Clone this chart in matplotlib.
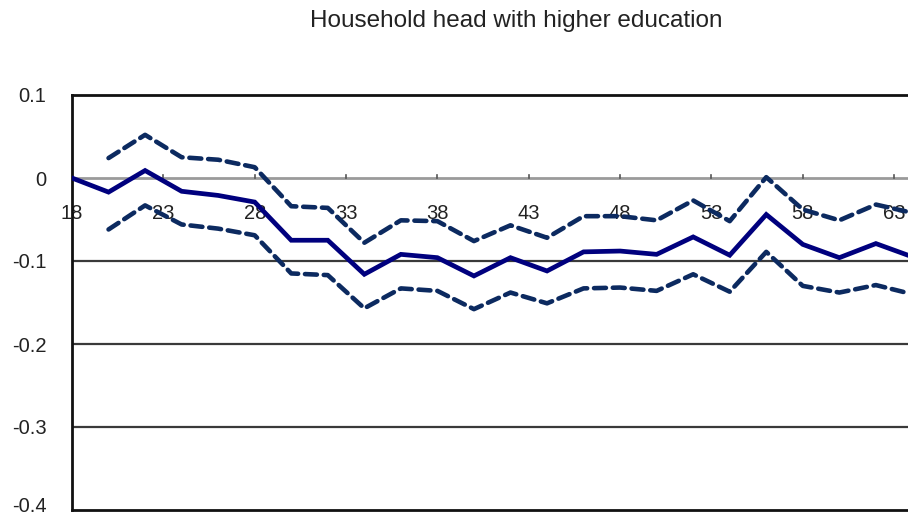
import matplotlib
matplotlib.use("Agg")
import matplotlib.pyplot as plt
from matplotlib.transforms import ScaledTranslation

plt.rcParams['font.family'] = ['Liberation Sans', 'DejaVu Sans']

ages = [18, 20, 22, 24, 26, 28, 30, 32, 34, 36, 38, 40, 42, 44, 46, 48, 50,
        52, 54, 56, 58, 60, 62, 64]
estimate = [0.000, -0.017, 0.009, -0.016, -0.021, -0.029, -0.075, -0.075,
            -0.116, -0.092, -0.096, -0.118, -0.096, -0.112, -0.089, -0.088,
            -0.092, -0.071, -0.093, -0.044, -0.080, -0.096, -0.079, -0.095]
band_ages = ages[1:]
upper = [0.024, 0.052, 0.025, 0.022, 0.013, -0.034, -0.036, -0.078, -0.051,
         -0.052, -0.076, -0.057, -0.072, -0.046, -0.046, -0.051, -0.027,
         -0.052, 0.001, -0.038, -0.051, -0.032, -0.042]
lower = [-0.062, -0.033, -0.056, -0.061, -0.069, -0.115, -0.117, -0.157,
         -0.133, -0.136, -0.158, -0.138, -0.151, -0.133, -0.132, -0.136,
         -0.116, -0.137, -0.089, -0.130, -0.138, -0.129, -0.140]
x_ticks = [18, 23, 28, 33, 38, 43, 48, 53, 58, 63]
y_ticks = [0.1, 0, -0.1, -0.2, -0.3, -0.4]
y_labels = ["0.1", "0", "-0.1", "-0.2", "-0.3", "-0.4"]
title = "Household head with higher education"

W, H = 908, 519
fig = plt.figure(figsize=(W / 100, H / 100), dpi=100)
left_px, top_px, bottom_px = 72, 95, 510
ax = fig.add_axes([left_px / W, 1 - bottom_px / H, 1 - left_px / W,
                   (bottom_px - top_px) / H])

px_per_year = 18.27
ax.set_xlim(18, 18 + (W - left_px) / px_per_year)
ax.set_ylim(-0.4, 0.1)

# horizontal gridlines
for v in [-0.1, -0.2, -0.3]:
    ax.axhline(v, color='#3a3a3a', lw=1.6, zorder=1)
# category axis at zero
ax.axhline(0, color='#9a9a9a', lw=2.0, zorder=1)
for t in x_ticks:
    ax.plot([t, t], [0, 0.004], color='#555555', lw=1.2, zorder=1)
    ax.text(t, -0.043, str(t), ha='center', va='center', fontsize=14.5,
            color='#222222', zorder=2)

dash = (0, (2.6, 1.5))
ax.plot(band_ages, upper, color='#0c2a60', lw=3.3, ls=dash, zorder=3,
        dash_capstyle='round')
ax.plot(band_ages, lower, color='#0c2a60', lw=3.3, ls=dash, zorder=3,
        dash_capstyle='round')
ax.plot(ages, estimate, color='#00007e', lw=3.4, zorder=4,
        solid_joinstyle='miter')

for side in ['top', 'left', 'bottom']:
    ax.spines[side].set_linewidth(2.0)
    ax.spines[side].set_color('#111111')
ax.spines['right'].set_visible(False)

ax.set_xticks([])
ax.set_yticks(y_ticks)
ax.set_yticklabels(y_labels, fontsize=14.5, color='#222222')
ax.tick_params(axis='y', length=0, pad=18.5)
# lift the bottom label so it stays inside the canvas
bottom_lbl = ax.get_yticklabels()[-1]
bottom_lbl.set_transform(bottom_lbl.get_transform()
                         + ScaledTranslation(0, 5 / 100, fig.dpi_scale_trans))

fig.text(516 / W, 1 - 21 / H, title, ha='center', va='center', fontsize=17.5,
         color='#222222')

fig.savefig("out.png", dpi=100)
